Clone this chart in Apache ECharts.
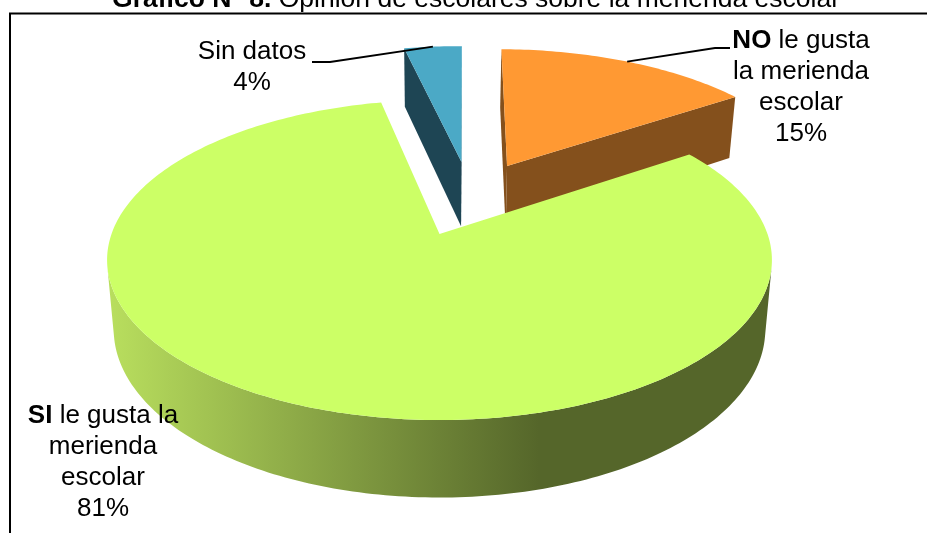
<!DOCTYPE html>
<html lang="es">
<head>
<meta charset="UTF-8">
<title>Grafico 8</title>
<style>html,body{margin:0;padding:0;background:#fff}#main{width:927px;height:533px}</style>
<script src="https://cdn.jsdelivr.net/npm/echarts@6/dist/echarts.min.js"></script>
</head>
<body>
<div id="main"></div>
<script>
// slices, clockwise from the top
const categories = ['NO', 'SI', 'Sin datos'];
const values = [15.4, 81.1, 3.5];
const boldParts = ['NO', 'SI', ''];
const labelLines = [
    [' le gusta', 'la merienda', 'escolar'],
    [' le gusta la', 'merienda', 'escolar'],
    ['Sin datos']
];
const topColors = ['#ff9933', '#ccff66', '#4ba9c6'];
const sideColors = ['#84501c', '#55662a', '#1e4554'];

// fake 3d pie: flat disc seen through a perspective
const originX = 439.5, originY = 234;
const radiusX = 328, radiusY = 155.8, persp = 0.1625;
const depth = 68, lowerScale = 0.98;
const explode = 0.26, startAngle = 0.7;
const wallFrom = 0.2; // outer wall starts where it is tangent to the top ellipse
const font = 'Liberation Sans, Arial, sans-serif';
const fontSize = 26, lineH = 31;

// x/y of label middle and elbow of the leader line
const labelPos = [
    {x: 801, y: 87, elbow: [[730, 48], [715, 48]]},
    {x: 103, y: 462.5},
    {x: 252, y: 67, elbow: [[312, 62], [330, 62]]}
];

const total = values.reduce((a, b) => a + b, 0);
let acc = startAngle;
const slices = values.map(v => {
    const s = {from: acc, to: acc + v / total * 360};
    acc = s.to;
    return s;
});
const dir = a => [Math.sin(a * Math.PI / 180), -Math.cos(a * Math.PI / 180)];
const midOf = s => (s.from + s.to) / 2;
// biggest slice sits on the origin, the pie centre comes from it
const bigDir = dir(midOf(slices[1]));
const centre = [-explode * bigDir[0], -explode * bigDir[1]];

function project(u, v, lower) {
    const w = 1 - persp * v;
    let x = radiusX * u / w, y = radiusY * v / w;
    if (lower) {
        x *= lowerScale;
        y = y * lowerScale + depth / w;
    }
    return [originX + x, originY + y];
}

function slicePoints(i, lower) {
    const s = slices[i];
    const d = dir(midOf(s));
    const ax = centre[0] + explode * d[0], ay = centre[1] + explode * d[1];
    const arc = [], near = [];
    const n = Math.ceil(s.to - s.from);
    for (let k = 0; k <= n; k++) {
        const p = dir(s.from + (s.to - s.from) * k / n);
        const pt = project(ax + p[0], ay + p[1], lower);
        arc.push(pt);
        if (p[1] > wallFrom) near.push(pt);
    }
    return {apex: project(ax, ay, lower), arc: arc, near: near, ax: ax, ay: ay};
}

function renderSlice(params, api) {
    const i = params.dataIndex;
    const pct = Math.round(api.value(0));
    const z = i === 1 ? 2 : 1;
    const top = slicePoints(i, false), low = slicePoints(i, true);
    const kids = [];
    const side = i === 1
        ? new echarts.graphic.LinearGradient(107, 0, 772, 0, [
            {offset: 0, color: '#b9df5e'},
            {offset: 0.65, color: '#55662a'},
            {offset: 1, color: '#55662a'}
        ], true)
        : sideColors[i];
    const poly = pts => ({type: 'polygon', z2: z, shape: {points: pts}, style: {fill: side}});

    // the walls of the big slice stay hidden under its own top
    if (i !== 1) {
        kids.push(poly([top.apex, top.arc[0], low.arc[0], low.apex]));
        kids.push(poly([top.apex, top.arc[top.arc.length - 1], low.arc[low.arc.length - 1], low.apex]));
    }
    if (top.near.length > 1) kids.push(poly(top.near.concat(low.near.slice().reverse())));
    kids.push({type: 'polygon', z2: z, shape: {points: [top.apex].concat(top.arc)}, style: {fill: topColors[i]}});

    // label
    const pos = labelPos[i];
    const lines = labelLines[i].slice();
    lines.push(pct + '%');
    if (boldParts[i]) lines[0] = '{b|' + boldParts[i] + '}' + lines[0];
    kids.push({
        type: 'text', z2: 5, x: pos.x, y: pos.y,
        style: {
            text: lines.join('\n'), fill: '#000', align: 'center', verticalAlign: 'middle',
            font: fontSize + 'px ' + font, lineHeight: lineH,
            rich: {b: {fontWeight: 'bold', fontSize: fontSize, fontFamily: font, lineHeight: lineH}}
        }
    });

    if (pos.elbow) {
        const m = dir(midOf(slices[i]));
        const end = project(top.ax + m[0], top.ay + m[1], false);
        kids.push({
            type: 'polyline', z2: 4, shape: {points: pos.elbow.concat([end])},
            style: {stroke: '#000', lineWidth: 2, fill: null}
        });
    }
    return {type: 'group', children: kids};
}

let myChart = echarts.init(document.getElementById('main'));
myChart.setOption({
    animation: false,
    backgroundColor: '#fff',
    title: {
        text: '{b|Gráfico N° 8.} Opinión de escolares sobre la merienda escolar',
        left: 471,
        textAlign: 'center',
        top: -19,
        textStyle: {
            fontFamily: font, fontSize: 26.5, fontWeight: 'normal', color: '#000',
            rich: {b: {fontFamily: font, fontSize: 26.5, fontWeight: 'bold', color: '#000'}}
        }
    },
    graphic: [{
        type: 'rect', z: -1, silent: true,
        shape: {x: 10, y: 13.5, width: 1000, height: 600},
        style: {fill: null, stroke: '#000', lineWidth: 2}
    }],
    series: [{
        type: 'custom',
        coordinateSystem: 'none',
        silent: true,
        data: categories.map((c, i) => ({name: c, value: [values[i]]})),
        renderItem: renderSlice
    }]
});
</script>
</body>
</html>
